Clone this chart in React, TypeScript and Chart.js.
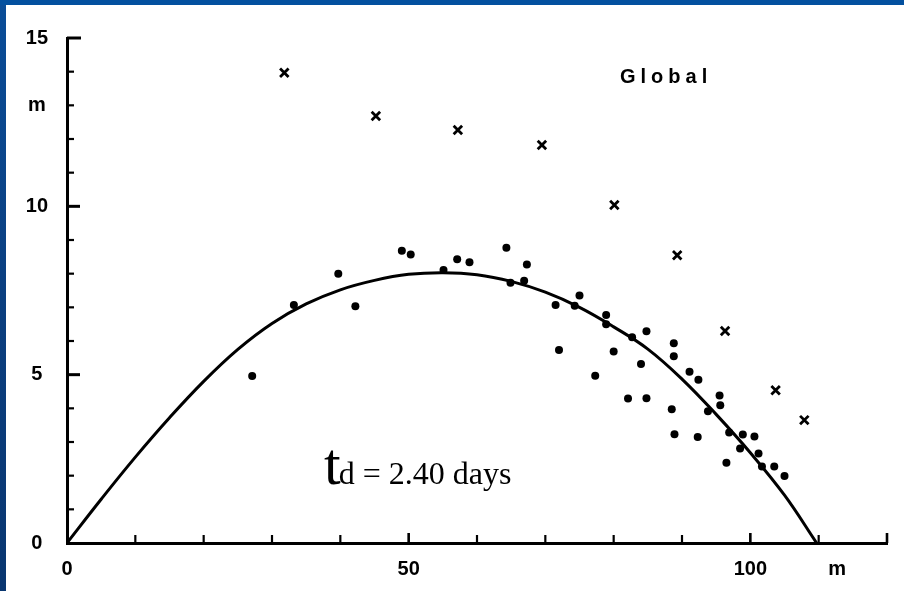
import React, { useEffect, useRef } from 'react';
import { Chart, registerables } from 'chart.js';

Chart.register(...registerables);

// Fitted curve
const curveX = [0, 5, 10, 15, 20, 25, 30, 35, 40, 45, 50, 55, 60, 65, 70, 75, 80, 85, 90, 95, 100, 105, 109.7];
const curveY = [0, 1.3, 2.55, 3.72, 4.8, 5.75, 6.52, 7.1, 7.52, 7.8, 7.98, 8.03, 7.97, 7.77, 7.45, 7.0, 6.42, 5.76, 4.87, 3.82, 2.68, 1.42, 0];

// Observed points (dots)
const dotX = [27.1, 33.2, 39.7, 42.2, 49.0, 50.3, 55.1, 57.1, 58.9, 64.3, 67.3, 64.9, 66.9, 71.5, 72.0, 75.0, 74.3, 78.9, 78.9, 77.3, 80.0, 82.7, 84.8, 84.0, 82.1, 84.8, 88.8, 88.8, 91.1, 92.4, 88.5, 88.9, 92.3, 93.8, 95.5, 95.6, 96.9, 96.5, 98.9, 100.6, 98.5, 101.2, 101.7, 103.5, 105.0];
const dotY = [4.96, 7.07, 8.0, 7.03, 8.68, 8.57, 8.11, 8.43, 8.34, 8.77, 8.27, 7.73, 7.79, 7.07, 5.73, 7.35, 7.05, 6.77, 6.5, 4.97, 5.69, 6.11, 6.29, 5.32, 4.29, 4.3, 5.93, 5.55, 5.09, 4.85, 3.97, 3.23, 3.15, 3.91, 4.38, 4.09, 3.28, 2.38, 3.22, 3.16, 2.81, 2.66, 2.27, 2.27, 1.99];

// Crosses
const crossX = [31.8, 45.2, 57.2, 69.5, 80.1, 89.3, 96.3, 103.7, 107.9];
const crossY = [13.97, 12.68, 12.27, 11.82, 10.04, 8.55, 6.3, 4.54, 3.65];

// Tick labels
const xTickValues = [0, 50, 100, 112.7];
const xTickLabels = ['0', '50', '100', 'm'];
const yTickValues = [0, 5, 10, 13, 15];
const yTickLabels = ['0', '5', '10', 'm', '15'];

// Tick marks (drawn inward)
const xMarkValues = [10, 20, 30, 40, 50, 60, 70, 80, 90, 100, 110, 120];
const yMarkValues = [1, 2, 3, 4, 5, 6, 7, 8, 9, 10, 11, 12, 13, 14, 15];

const bgPlugin = {
  id: 'bg',
  beforeDraw(chart: any) {
    const { ctx, width, height } = chart;
    ctx.save();
    ctx.fillStyle = '#ffffff';
    ctx.fillRect(0, 0, width, height);
    const g = ctx.createLinearGradient(0, 0, 0, height);
    g.addColorStop(0, '#0a4d98');
    g.addColorStop(0.5, '#0b3f80');
    g.addColorStop(1, '#093670');
    ctx.fillStyle = g;
    ctx.fillRect(0, 0, 6, height);
    ctx.fillStyle = '#03509f';
    ctx.fillRect(0, 0, width, 5);
    ctx.restore();
  },
};

const tickPlugin = {
  id: 'inwardTicks',
  afterDatasetsDraw(chart: any) {
    const { ctx, chartArea, scales } = chart;
    const x = scales.x;
    const y = scales.y;
    ctx.save();
    ctx.strokeStyle = '#000';
    ctx.lineCap = 'butt';
    for (const v of yMarkValues) {
      const py = y.getPixelForValue(v);
      const major = v % 5 === 0;
      ctx.lineWidth = major ? 3 : 2.2;
      const len = v === 15 ? 14 : major ? 13 : 7;
      ctx.beginPath();
      ctx.moveTo(chartArea.left, py);
      ctx.lineTo(chartArea.left + len, py);
      ctx.stroke();
    }
    for (const v of xMarkValues) {
      const px = x.getPixelForValue(v);
      const major = v % 50 === 0 || v === 120;
      ctx.lineWidth = major ? 2.6 : 2.2;
      const len = major ? 10 : 8;
      ctx.beginPath();
      ctx.moveTo(px, chartArea.bottom);
      ctx.lineTo(px, chartArea.bottom - len);
      ctx.stroke();
    }
    ctx.restore();
  },
};

const textPlugin = {
  id: 'texts',
  afterDraw(chart: any) {
    const { ctx } = chart;
    ctx.save();
    ctx.fillStyle = '#000';
    ctx.textBaseline = 'alphabetic';
    ctx.textAlign = 'left';
    ctx.font = 'bold 20px "Liberation Sans"';
    try { (ctx as any).letterSpacing = '5px'; } catch (e) {}
    ctx.fillText('Global', 620, 83);
    try { (ctx as any).letterSpacing = '0px'; } catch (e) {}
    ctx.font = '60px "Liberation Serif"';
    ctx.fillText('t', 324, 484);
    const tw = ctx.measureText('t').width;
    ctx.font = '32px "Liberation Serif"';
    ctx.fillText('d = 2.40 days', 324 + tw - 2, 484);
    ctx.restore();
  },
};

export default function App() {
  const ref = useRef<HTMLCanvasElement>(null);
  useEffect(() => {
    document.body.style.margin = '0';
    const canvas = ref.current;
    if (!canvas) return;
    const chart = new Chart(canvas, {
      type: 'scatter',
      data: {
        datasets: [
          {
            label: 'fit',
            data: curveX.map((x, i) => ({ x, y: curveY[i] })),
            showLine: true,
            borderColor: '#000',
            backgroundColor: '#000',
            borderWidth: 3,
            pointRadius: 0,
            tension: 0.4,
            fill: false,
          },
          {
            label: 'dots',
            data: dotX.map((x, i) => ({ x, y: dotY[i] })),
            pointStyle: 'circle',
            pointRadius: 4,
            pointBackgroundColor: '#000',
            pointBorderColor: '#000',
            pointBorderWidth: 0,
          },
          {
            label: 'crosses',
            data: crossX.map((x, i) => ({ x, y: crossY[i] })),
            pointStyle: 'crossRot',
            pointRadius: 6,
            pointBorderColor: '#000',
            pointBackgroundColor: '#000',
            pointBorderWidth: 2.8,
          },
        ],
      } as any,
      options: {
        responsive: false,
        animation: false,
        events: [],
        layout: { padding: { left: 0, top: 38, right: 17, bottom: 0 } },
        plugins: { legend: { display: false }, tooltip: { enabled: false } },
        scales: {
          x: {
            type: 'linear',
            min: 0,
            max: 120,
            grid: { display: false },
            border: { display: true, color: '#000', width: 3 },
            afterFit: (s: any) => { s.height = 48; },
            afterBuildTicks: (s: any) => { s.ticks = xTickValues.map((v) => ({ value: v })); },
            ticks: {
              autoSkip: false,
              maxRotation: 0,
              padding: 6,
              color: '#000',
              font: { family: 'Liberation Sans', size: 20, weight: 'bold' },
              callback: (_v: any, i: number) => xTickLabels[i],
            },
          },
          y: {
            type: 'linear',
            min: 0,
            max: 15,
            grid: { display: false },
            border: { display: true, color: '#000', width: 3 },
            afterFit: (s: any) => { s.width = 67; },
            afterBuildTicks: (s: any) => { s.ticks = yTickValues.map((v) => ({ value: v })); },
            ticks: {
              autoSkip: false,
              padding: 11,
              crossAlign: 'center',
              color: '#000',
              font: { family: 'Liberation Sans', size: 20, weight: 'bold' },
              callback: (_v: any, i: number) => yTickLabels[i],
            },
          },
        },
      } as any,
      plugins: [bgPlugin, tickPlugin, textPlugin],
    });
    return () => chart.destroy();
  }, []);
  return (
    <div style={{ position: 'fixed', left: 0, top: 0, width: 904, height: 591, background: '#fff' }}>
      <canvas ref={ref} width={904} height={591} style={{ display: 'block' }} />
    </div>
  );
}
